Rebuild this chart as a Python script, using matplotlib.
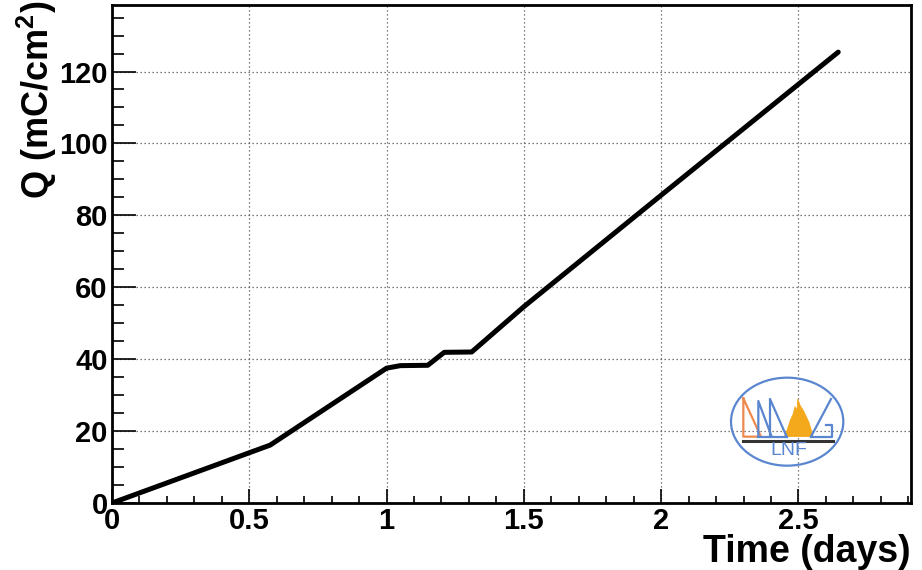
import matplotlib
matplotlib.use("Agg")
import matplotlib.pyplot as plt
from matplotlib.patches import Ellipse, Polygon
from matplotlib.ticker import MultipleLocator, FuncFormatter

# Accumulated charge versus irradiation time
time_days = [0.0, 0.576, 1.0, 1.05, 1.15, 1.21, 1.31, 1.5, 2.0, 2.645]
charge_mc_cm2 = [0.0, 16.1, 37.5, 38.2, 38.3, 41.9, 42.0, 54.6, 85.6, 125.4]

x_limits = (0.0, 2.91)
y_limits = (0.0, 138.5)
x_major_step, x_minor_step = 0.5, 0.1
y_major_step, y_minor_step = 20, 5

x_title = "Time (days)"
y_title = r"Q (mC/cm$^{2}$)"

plt.rcParams["font.family"] = ["Liberation Sans", "DejaVu Sans"]
plt.rcParams["font.weight"] = "bold"
plt.rcParams["mathtext.fontset"] = "custom"
plt.rcParams["mathtext.rm"] = "Liberation Sans:bold"
plt.rcParams["mathtext.bf"] = "Liberation Sans:bold"
plt.rcParams["mathtext.it"] = "Liberation Sans:bold"
plt.rcParams["mathtext.default"] = "rm"

W, H = 922, 570
fig = plt.figure(figsize=(W / 100, H / 100), dpi=100)
fig.patch.set_facecolor("white")

left, right, top, bottom = 112, 911, 5, 503
ax = fig.add_axes([left / W, 1 - bottom / H, (right - left) / W, (bottom - top) / H])

ax.plot(time_days, charge_mc_cm2, color="black", lw=3.6,
        solid_capstyle="round", solid_joinstyle="round", zorder=3)

ax.set_xlim(*x_limits)
ax.set_ylim(*y_limits)

ax.xaxis.set_major_locator(MultipleLocator(x_major_step))
ax.xaxis.set_minor_locator(MultipleLocator(x_minor_step))
ax.yaxis.set_major_locator(MultipleLocator(y_major_step))
ax.yaxis.set_minor_locator(MultipleLocator(y_minor_step))
ax.xaxis.set_major_formatter(FuncFormatter(lambda v, p: f"{v:g}"))
ax.yaxis.set_major_formatter(FuncFormatter(lambda v, p: f"{v:g}"))

ax.tick_params(axis="both", which="both", direction="in", top=False, right=False,
               color="black", labelsize=21)
ax.tick_params(axis="y", which="major", length=17, width=1.2, pad=3)
ax.tick_params(axis="y", which="minor", length=8.6, width=1.2)
ax.tick_params(axis="x", which="major", length=10, width=1.2, pad=3)
ax.tick_params(axis="x", which="minor", length=5, width=1.2)
for lab in ax.get_xticklabels() + ax.get_yticklabels():
    lab.set_fontweight("bold")

for sp in ax.spines.values():
    sp.set_linewidth(2.0)
    sp.set_color("black")

ax.grid(True, which="major", color="#555555", linestyle=(0, (1, 2.2)), lw=0.9)
ax.set_axisbelow(True)

fig.text(right / W, 1 - 562 / H, x_title, ha="right", va="baseline",
         fontsize=27, fontweight="bold")
fig.text(15 / W, 1 - 1 / H, y_title, ha="right", va="top", rotation=90,
         rotation_mode="anchor", fontsize=26, fontweight="bold")

# Laboratory logo drawn in pixel coordinates
lg = fig.add_axes([725 / W, 1 - 470 / H, 125 / W, 95 / H])
lg.set_xlim(725, 850)
lg.set_ylim(470, 375)
lg.axis("off")
lg.patch.set_alpha(0)

blue = "#5a86d0"
orange = "#ee8a4e"
gold = "#f4a81c"


def px(zx, zy):
    return 725 + zx / 3, 375 + zy / 3


lg.add_patch(Ellipse(px(186.5, 140), 112.3, 88, fill=False, ec=blue, lw=1.6))

tri = [px(55, 70), px(55, 185), px(108, 185), px(55, 70)]
lg.plot(*zip(*tri), color=orange, lw=1.6)

blue_lines = [
    [px(100, 185), px(100, 78), px(140, 185)],
    [px(100, 185), px(185, 185)],
    [px(135, 185), px(135, 72), px(185, 185)],
    [px(258, 185), px(318, 72)],
    [px(258, 185), px(320, 185), px(320, 150), px(302, 150)],
]
for seg in blue_lines:
    lg.plot(*zip(*seg), color=blue, lw=1.6)

flame = [px(178, 185), px(188, 160), px(196, 135), px(204, 118), px(210, 95),
         px(216, 105), px(218, 72), px(226, 92), px(236, 108), px(244, 125),
         px(252, 142), px(258, 162), px(264, 185)]
lg.add_patch(Polygon(flame, closed=True, fc=gold, ec=gold, lw=0.5))

lg.plot(*zip(px(55, 198), px(325, 198)), color="#333333", lw=2.2)
lg.text(*px(190, 228), "LNF", color=blue, fontsize=14, fontweight="normal",
        ha="center", va="center")

fig.savefig("out.png", dpi=100, facecolor="white")
